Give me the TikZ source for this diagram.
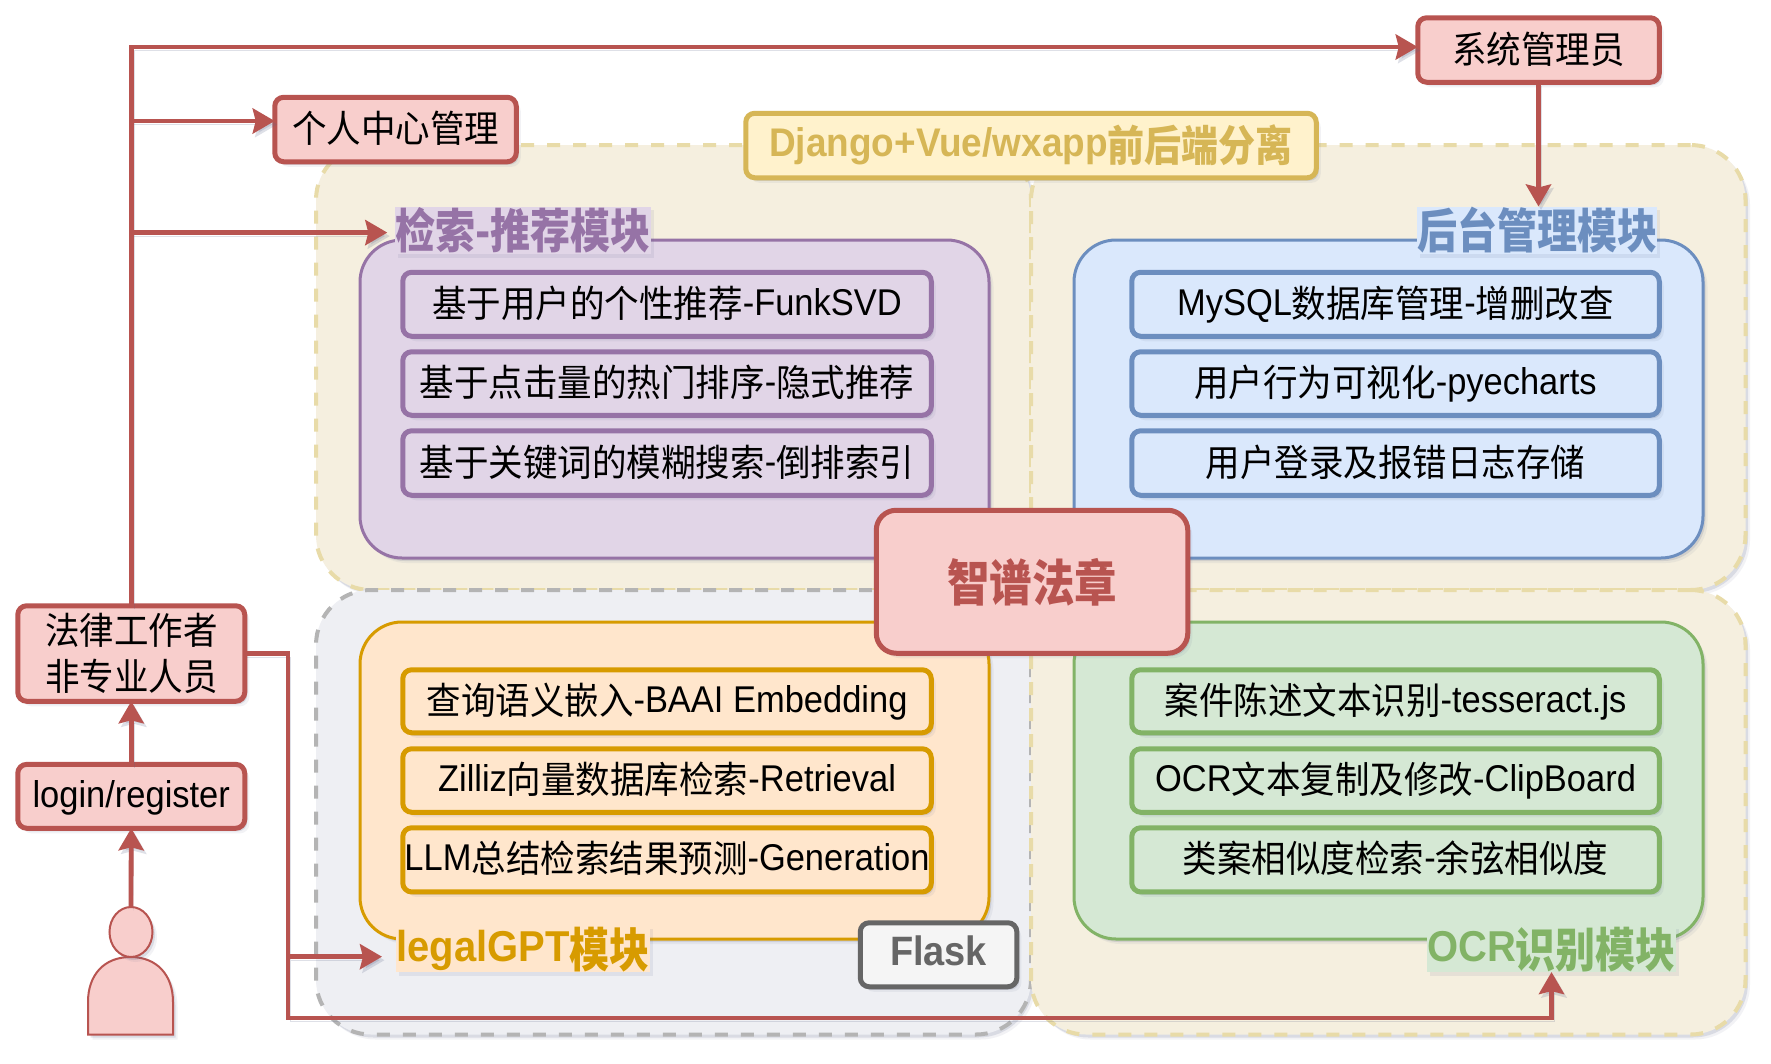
\documentclass[tikz,border=0pt]{standalone}
\usepackage{fontspec}
\usepackage{graphicx}
\setmainfont{Liberation Sans}[Scale=1.08,FakeStretch=0.925]
\newfontfamily\cjk{Noto Sans CJK SC}
% #1 vertical stretch, #2 drop, #3 text
\newcommand\zhs[3]{\smash{\raisebox{-#2}{\scalebox{1}[#1]{\cjk #3}}}}
\newcommand\zh[1]{\zhs{1.08}{2pt}{#1}}
\newcommand\zhb[1]{\zhs{1.18}{6pt}{\bfseries #1}}
\usetikzlibrary{shapes.geometric,shadows,arrows.meta,calc}
\definecolor{redf}{HTML}{F8CECC}\definecolor{reds}{HTML}{B85450}
\definecolor{purf}{HTML}{E1D5E7}\definecolor{purs}{HTML}{9673A6}
\definecolor{bluf}{HTML}{DAE8FC}\definecolor{blus}{HTML}{6C8EBF}
\definecolor{oraf}{HTML}{FFE6CC}\definecolor{oras}{HTML}{D79B00}
\definecolor{grnf}{HTML}{D5E8D4}\definecolor{grns}{HTML}{82B366}
\definecolor{yelf}{HTML}{FFF2CC}\definecolor{yels}{HTML}{D6B656}
\definecolor{gryf}{HTML}{F5F5F5}\definecolor{grys}{HTML}{666666}
\definecolor{begf}{HTML}{F5EFDF}\definecolor{begs}{HTML}{E8DBA8}
\definecolor{gpnf}{HTML}{EEEFF3}\definecolor{gpns}{HTML}{B4B4B4}
\definecolor{shad}{HTML}{5A6488}
\tikzset{
  softshadow/.style={
    general shadow={shadow xshift=4.5pt,shadow yshift=-5pt,fill=shad,opacity=.08},
    general shadow={shadow xshift=2.5pt,shadow yshift=-3pt,fill=shad,opacity=.16}},
  base/.style={draw,outer sep=0pt,inner sep=0pt,align=center,softshadow},
  thick box/.style={base,line width=5pt,rounded corners=9pt,font=\fontsize{34.5}{46}\selectfont},
  oneline/.style={text height=29pt,text depth=7pt},
  redbox/.style={thick box,fill=redf,draw=reds},
  purbox/.style={thick box,oneline,fill=purf,draw=purs},
  blubox/.style={thick box,oneline,fill=bluf,draw=blus},
  orabox/.style={thick box,oneline,fill=oraf,draw=oras},
  grnbox/.style={thick box,oneline,fill=grnf,draw=grns},
  panel/.style={base,line width=3pt,rounded corners=42pt},
  outer/.style={base,line width=4pt,rounded corners=55pt,dash pattern=on 13pt off 13pt},
  tag/.style={outer sep=0pt,inner sep=0pt,font=\fontsize{40}{46}\selectfont\bfseries,text height=33pt,text depth=8pt,
    general shadow={shadow xshift=3pt,shadow yshift=-3.5pt,fill=shad,opacity=.10}},
  conn/.style={draw=reds,line width=4.8pt,
    preaction={draw=shad,opacity=.2,transform canvas={xshift=2.5pt,yshift=-3.5pt}},
    -{Stealth[length=22pt,width=25pt,inset=3pt]}},
}
% style, name, x1, y1, x2, y2, text
\newcommand\bx[7]{\node[#1,minimum width={#5-#3-1.5},minimum height={#6-#4-1.5}] (#2) at ({(#3+#5)/2},{(#4+#6)/2}) {#7};}
\newcommand\pn[7]{\node[#1,minimum width={#5-#3},minimum height={#6-#4}] (#2) at ({(#3+#5)/2},{(#4+#6)/2}) {#7};}
\begin{document}
\begin{tikzpicture}[x=1pt,y=-1pt]
\useasboundingbox[fill=white] (0,0) rectangle (1771,1063);
% outer panels
\pn{outer,fill=begf,draw=begs}{pTL}{316}{145}{1031}{590}{}
\pn{outer,fill=begf,draw=begs}{pTR}{1031}{145}{1745.5}{590}{}
\pn{outer,fill=gpnf,draw=gpns}{pBL}{316}{590}{1031}{1034.5}{}
\pn{outer,fill=begf,draw=begs}{pBR}{1031}{590}{1745.5}{1034.5}{}
% module panels
\pn{panel,fill=purf,draw=purs}{mS}{360}{240}{989}{558}{}
\pn{panel,fill=bluf,draw=blus}{mB}{1074}{240}{1703}{558}{}
\pn{panel,fill=oraf,draw=oras}{mL}{360}{622}{989}{939}{}
\pn{panel,fill=grnf,draw=grns}{mO}{1074}{622}{1703}{939}{}
% tags
\pn{tag,fill=purf,text=purs}{tS}{396}{206.5}{650}{254}{\zhb{检索-推荐模块}}
\pn{tag,fill=bluf,text=blus}{tB}{1418}{206.5}{1656}{254}{\zhb{后台管理模块}}
\pn{tag,fill=oraf,text=oras}{tL}{396}{925.5}{650}{972}{legalGPT\zhb{模块}}
\pn{tag,fill=grnf,text=grns}{tO}{1428}{925.5}{1675}{972}{OCR\zhb{识别模块}}
% items
\bx{purbox}{s1}{402}{271.5}{932}{337}{\zh{基于用户的个性推荐}-FunkSVD}
\bx{purbox}{s2}{402}{351}{932}{416}{\zh{基于点击量的热门排序}-\zh{隐式推荐}}
\bx{purbox}{s3}{402}{430}{932}{496}{\zh{基于关键词的模糊搜索}-\zh{倒排索引}}
\bx{blubox}{b1}{1131}{271.5}{1660}{337}{MySQL\zh{数据库管理}-\zh{增删改查}}
\bx{blubox}{b2}{1131}{351}{1660}{416}{\zh{用户行为可视化}-pyecharts}
\bx{blubox}{b3}{1131}{430}{1660}{496}{\zh{用户登录及报错日志存储}}
\bx{orabox}{l1}{402}{669}{932}{733.5}{\zh{查询语义嵌入}-BAAI Embedding}
\bx{orabox}{l2}{402}{748}{932}{813}{Zilliz\zh{向量数据库检索}-Retrieval}
\bx{orabox}{l3}{402}{827}{932}{892.7}{LLM\zh{总结检索结果预测}-Generation}
\bx{grnbox}{o1}{1131}{669}{1660}{733.5}{\zh{案件陈述文本识别}-tesseract.js}
\bx{grnbox}{o2}{1131}{748}{1660}{813}{OCR\zh{文本复制及修改}-ClipBoard}
\bx{grnbox}{o3}{1131}{827}{1660}{892.7}{\zh{类案相似度检索}-\zh{余弦相似度}}
% stand-alone boxes
\bx{thick box,fill=gryf,draw=grys,text=grys,font=\fontsize{38}{44}\selectfont\bfseries,oneline}{flask}{859.5}{922}{1017.6}{987.5}{Flask}
\bx{redbox,oneline}{personal}{274}{96.5}{517}{162.5}{\zh{个人中心管理}}
\bx{redbox,oneline}{admin}{1417}{17}{1660}{83}{\zh{系统管理员}}
\bx{redbox,oneline}{login}{17}{763.6}{245.5}{829}{login/register}
\bx{redbox}{worker}{17}{605}{245.5}{702}{\scalebox{1}[1.08]{\cjk 法律工作者}\\\scalebox{1}[1.08]{\cjk 非专业人员}}
% person
\draw[draw=reds,fill=redf,line width=2pt,softshadow]
  (88,1034.5) -- (88,1002) .. controls (88,975) and (104,957) .. (130.5,957) .. controls (157,957) and (173,975) .. (173,1002) -- (173,1034.5) -- cycle;
\node[ellipse,draw=reds,fill=redf,line width=2pt,minimum width=43pt,minimum height=50pt,inner sep=0pt,outer sep=0pt,softshadow] (head) at (131,932) {};
% junction points
\coordinate (topline) at (0,47);
\coordinate (j1) at (131,121);
\coordinate (j2) at (131,232.6);
\coordinate (r1) at (288,653.6);
\coordinate (r2) at (288,1018);
\coordinate (j3) at (288,956.7);
% connectors
\draw[conn] (head.north) -- (login.south);
\draw[conn] (login.north) -- (worker.south);
\draw[conn] (worker.north) |- (admin.west |- topline);
\draw[conn] (j1) -- (personal.west |- j1);
\draw[conn,shorten >=8pt] (j2) -- (tS.west |- j2);
\draw[conn] (admin.south) -- (admin.south |- tB.north);
\draw[conn] (worker.east |- r1) -- (r1) -- (r2) -- (tO.south |- r2) -- (tO.south);
\draw[conn,shorten >=14pt] (j3) -- (tL.west |- j3);
% title and centre
\bx{thick box,fill=yelf,draw=yels,text=yels,font=\fontsize{37}{46}\selectfont\bfseries,oneline}{title}{745}{112.5}{1317}{178.5}{Django+Vue/wxapp\zhs{1.15}{4.5pt}{\bfseries 前后端分离}}
\bx{redbox,rounded corners=20pt,text=reds,font=\fontsize{42.5}{50}\selectfont\bfseries,text height=45pt,text depth=5pt}{core}{875.5}{509.5}{1188.5}{654}{\zhs{1.17}{0pt}{\bfseries 智谱法章}}
\end{tikzpicture}
\end{document}
